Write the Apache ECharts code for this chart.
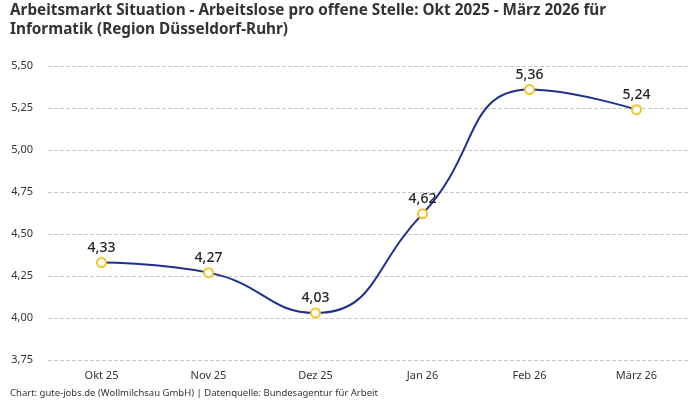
<!DOCTYPE html>
<html><head><meta charset="utf-8">
<script src="https://cdn.jsdelivr.net/npm/echarts@6/dist/echarts.min.js"></script>
<style>html,body{margin:0;padding:0;background:#fff}#c{width:700px;height:400px}</style>
</head><body><div id="c"></div>
<script>
const categories = ["Okt 25","Nov 25","Dez 25","Jan 26","Feb 26","März 26"];
const values = [4.33, 4.27, 4.03, 4.62, 5.36, 5.24];
const titleText = "Arbeitsmarkt Situation - Arbeitslose pro offene Stelle: Okt 2025 - März 2026 für\nInformatik (Region Düsseldorf-Ruhr)";
const footerText = "Chart: gute-jobs.de (Wollmilchsau GmbH) | Datenquelle: Bundesagentur für Arbeit";
const fmt = v => v.toFixed(2).replace('.', ',');
const FF = 'Noto Sans';
const chart = echarts.init(document.getElementById('c'));
chart.setOption({
  animation: false,
  textStyle: {fontFamily: FF},
  title: [{
    text: titleText, left: 10, top: 1, padding: 0,
    textStyle: {fontSize: 15.3, fontWeight: 'bold', color: '#333', lineHeight: 19, fontFamily: FF}
  },{
    text: footerText, left: 10, bottom: 2, padding: 0,
    textStyle: {fontSize: 9.5, fontWeight: 'normal', color: '#333', fontFamily: FF}
  }],
  grid: {left: 48, right: 10, top: 66, bottom: 40},
  xAxis: {
    type: 'category', data: categories, boundaryGap: true,
    axisLine: {show: false}, axisTick: {show: false},
    axisLabel: {color: '#333', fontSize: 11, margin: 10, fontFamily: FF}
  },
  yAxis: {
    type: 'value', min: 3.75, max: 5.5, interval: 0.25,
    axisLine: {show: false}, axisTick: {show: false},
    axisLabel: {color: '#333', fontSize: 11, margin: 15, formatter: fmt, fontFamily: FF},
    splitLine: {lineStyle: {type: 'dashed', color: '#ccc'}}
  },
  series: [{
    type: 'line', data: values, smooth: true,
    symbol: 'circle', symbolSize: 9,
    lineStyle: {color: '#1f2e8f', width: 2},
    itemStyle: {color: '#fff', borderColor: '#f5c323', borderWidth: 2},
    label: {show: true, position: 'top', fontSize: 14, fontWeight: 500, color: '#222', formatter: p => fmt(p.value), distance: 2, fontFamily: FF}
  }]
});
</script></body></html>
